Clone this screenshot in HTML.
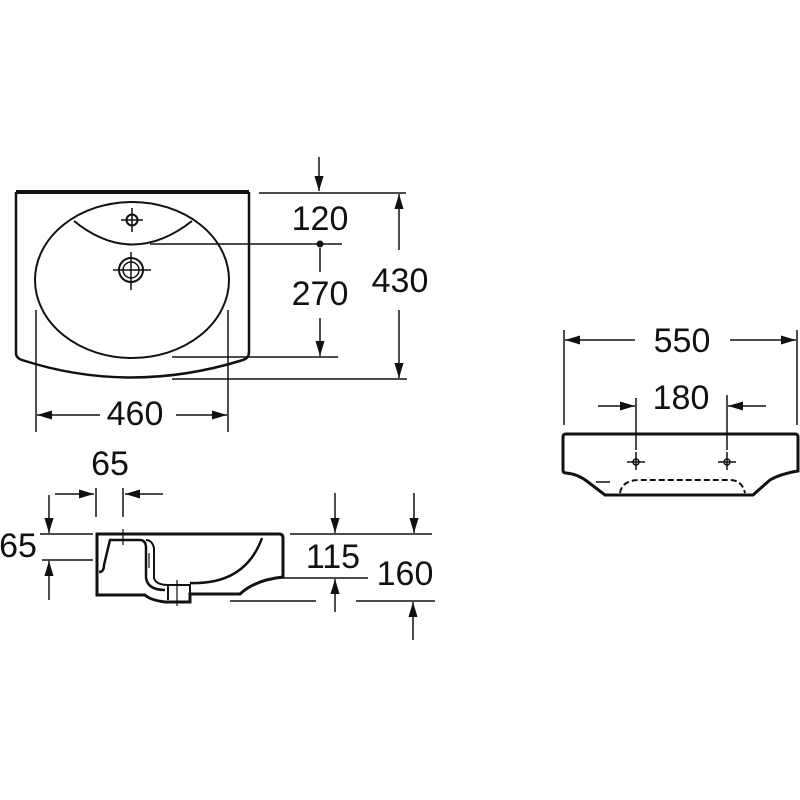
<!DOCTYPE html>
<html><head><meta charset="utf-8"><style>
html,body{margin:0;padding:0;background:#fff}
svg{display:block}
text{font-family:"Liberation Sans",sans-serif;font-size:34px;fill:#111;text-anchor:middle}
</style></head><body>
<svg width="800" height="800" viewBox="0 0 800 800" xmlns="http://www.w3.org/2000/svg">
<defs>
<marker id="a" viewBox="0 0 10 10" refX="10" refY="5" markerWidth="15" markerHeight="13" markerUnits="userSpaceOnUse" orient="auto" preserveAspectRatio="none"><path d="M0,1.5 L10,5 L0,8.5 Z" fill="#111"/></marker>
</defs>
<g stroke="#111" fill="none">
<!-- TOP VIEW -->
<path d="M16,192 H249" stroke-width="4"/>
<path d="M16,192 V353 Q16,358 22,360 Q130,395 243,360 Q249,358 249,352 V192" stroke-width="2.5"/>
<ellipse cx="132" cy="280" rx="97" ry="78" stroke-width="2"/>
<path d="M74,221 Q132,268 192,221" stroke-width="2"/>
<circle cx="132" cy="220" r="5.5" stroke-width="2"/>
<path d="M132,208 V232 M121,220 H143" stroke-width="1.5"/>
<circle cx="131" cy="270" r="12" stroke-width="2"/>
<circle cx="131" cy="270" r="8" stroke-width="1.5"/>
<path d="M131,252 V290 M113,270 H151" stroke-width="1.5"/>
<g stroke-width="1.5">
<path d="M259,193 H406"/>
<path d="M319,157 V191" marker-end="url(#a)"/>
<path d="M150,244 H342"/>
<path d="M320,248 V272"/>
<path d="M320,318 V356" marker-end="url(#a)"/>
<path d="M172,357 H338"/>
<path d="M172,379 H407"/>
<path d="M399,250 V194" marker-end="url(#a)"/>
<path d="M399,310 V378" marker-end="url(#a)"/>
<path d="M36,310 V432 M228,310 V432"/>
<path d="M100,415 H37" marker-end="url(#a)"/>
<path d="M176,415 H227" marker-end="url(#a)"/>
</g>
<circle cx="320" cy="244" r="3.5" fill="#111" stroke="none"/>

<!-- SIDE VIEW -->
<path d="M97,534 H279 Q283,534 283,538 V577 Q255,580 240,594 H190 V602 H165 Q150,600 145,595 H97 Z" stroke-width="3"/>
<path d="M99,572 Q104,572 104,565 L110,540 H140 Q146,540 146,548 V578 Q148,590 165,590" stroke-width="2.5"/>
<path d="M146,540 Q152,540 154,548 V578 Q156,585 168,585 H190 V590 M168,585 V600 M190,585 V602" stroke-width="2"/>
<path d="M262,538 Q245,585 190,583" stroke-width="2.5"/>
<path d="M123,529 V545 M149,553 V568 M177,580 V606" stroke-width="1.2"/>
<g stroke-width="1.5">
<path d="M55,494 H94" marker-end="url(#a)"/>
<path d="M163,494 H125" marker-end="url(#a)"/>
<path d="M96,488 V517 M123,488 V517"/>
<path d="M40,534 H93 M42,560 H93"/>
<path d="M49,495 V533" marker-end="url(#a)"/>
<path d="M49,600 V561" marker-end="url(#a)"/>
<path d="M290,534 H432"/>
<path d="M335,493 V533" marker-end="url(#a)"/>
<path d="M414,493 V533" marker-end="url(#a)"/>
<path d="M277,578 H368"/>
<path d="M335,612 V579" marker-end="url(#a)"/>
<path d="M230,601 H316 M356,601 H435"/>
<path d="M413,640 V602" marker-end="url(#a)"/>
</g>

<!-- FRONT VIEW -->
<path d="M566,434 H795 Q798,434 798,437 V471 Q780,474 770,480 L753,495 H605 L588,482 Q578,474 566,473 Q563,473 563,470 V437 Q563,434 566,434 Z" stroke-width="3"/>
<path d="M620,493 Q622,480 640,480 H730 Q742,480 745,493" stroke-width="2" stroke-dasharray="6,3"/>
<path d="M596,482 H610" stroke-width="1.5"/>
<g stroke-width="1.5">
<path d="M636,452 V470 M627,462 H645 M727,452 V470 M718,462 H736"/>
<circle cx="636" cy="462" r="3"/><circle cx="727" cy="462" r="3"/>
<path d="M564,330 V425 M797,330 V425"/>
<path d="M635,340 H565" marker-end="url(#a)"/>
<path d="M730,340 H796" marker-end="url(#a)"/>
<path d="M636,398 V450 M727,395 V450"/>
<path d="M598,406 H635" marker-end="url(#a)"/>
<path d="M766,406 H728" marker-end="url(#a)"/>
</g>
</g>
<text x="320" y="230">120</text>
<text x="320" y="305">270</text>
<text x="400" y="292">430</text>
<text x="135" y="425">460</text>
<text x="110" y="475">65</text>
<text x="18" y="557">65</text>
<text x="333" y="568">115</text>
<text x="405" y="585">160</text>
<text x="682" y="352">550</text>
<text x="681" y="409">180</text>
</svg>
</body></html>
